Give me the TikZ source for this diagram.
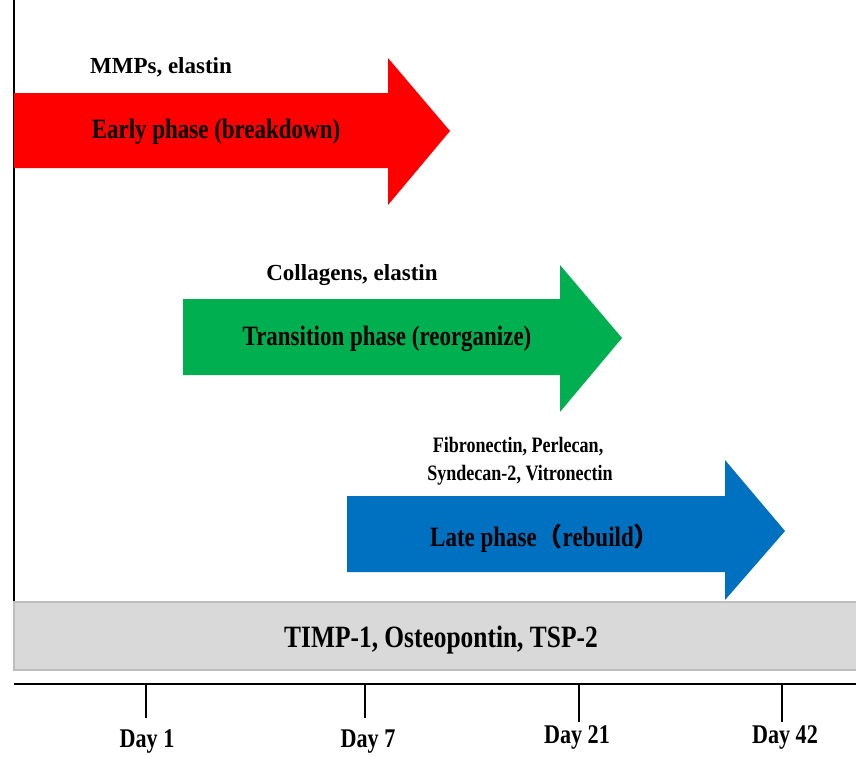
\documentclass[tikz,border=0pt]{standalone}
\usepackage{fontspec}
\setmainfont{Liberation Serif}
\newfontfamily\cf[FakeStretch=0.82]{Liberation Serif}
\newfontfamily\cjk{Noto Sans CJK SC}
\definecolor{ared}{HTML}{FF0000}
\definecolor{agreen}{HTML}{00B050}
\definecolor{ablue}{HTML}{0070C0}
\definecolor{bandgray}{HTML}{D9D9D9}
\definecolor{bandedge}{HTML}{BDBDBD}
\tikzset{
  phasearrow/.style={draw=none},
  lbl/.style={inner sep=0pt, anchor=base, text=black},
  biglbl/.style={lbl, font=\cf\bfseries\fontsize{28}{30}\selectfont},
  toplbl/.style={lbl, font=\bfseries\fontsize{23}{26}\selectfont},
  daylbl/.style={lbl, font=\cf\bfseries\fontsize{27}{30}\selectfont},
  tickline/.style={draw=black, line width=1.4pt},
}
\begin{document}
\begin{tikzpicture}[x=1pt,y=-1pt]
\useasboundingbox (0,0) rectangle (856,756);
% vertical axis
\coordinate (vtop) at (14,0);
\coordinate (vbot) at (14,602);
\draw[line width=2pt] (vtop) -- (vbot);
% arrows
\fill[ared] (14,93) -- (388,93) -- (388,58) -- (450,131) -- (388,205) -- (388,168) -- (14,168) -- cycle;
\fill[agreen] (183,299) -- (560,299) -- (560,265) -- (622,338) -- (560,412) -- (560,375) -- (183,375) -- cycle;
\fill[ablue] (347,496) -- (725,496) -- (725,460) -- (785,531) -- (725,600) -- (725,572) -- (347,572) -- cycle;
% band
\fill[bandgray] (14,602) rectangle (856,670);
\draw[bandedge, line width=1.2pt] (856,602) -- (14,602) -- (14,670) -- (856,670);
% labels
\node[toplbl] (mmp) at (161,73) {MMPs, elastin};
\node[biglbl] (early) at (216,138) {Early phase (breakdown)};
\node[toplbl] (coll) at (352,280) {Collagens, elastin};
\node[biglbl] (trans) at (387,345) {Transition phase (reorganize)};
\node[lbl, font=\cf\bfseries\fontsize{22}{26}\selectfont] (fib) at (518,452) {Fibronectin, Perlecan,};
\node[lbl, font=\cf\bfseries\fontsize{22}{26}\selectfont] (syn) at (520,480) {Syndecan-2, Vitronectin};
\node[biglbl] (late) at (545,546) {Late phase{\cjk\fontsize{26}{30}\selectfont（}rebuild{\cjk\fontsize{26}{30}\selectfont）}};
\node[lbl, font=\cf\bfseries\fontsize{31}{34}\selectfont] (timp) at (441,647) {TIMP-1, Osteopontin, TSP-2};
% time axis
\coordinate (hl) at (14,684);
\coordinate (hr) at (856,684);
\draw[line width=1.6pt] (hl) -- (hr);
\node[daylbl] (d1) at (147,747) {Day 1};
\node[daylbl] (d7) at (368,747) {Day 7};
\node[daylbl] (d21) at (577,743) {Day 21};
\node[daylbl] (d42) at (785,743) {Day 42};
\coordinate (t1) at (146,684);
\coordinate (t7) at (365,684);
\coordinate (t21) at (579,684);
\coordinate (t42) at (782,684);
\coordinate (e1) at (146,718);
\coordinate (e7) at (365,718);
\coordinate (e21) at (579,722);
\coordinate (e42) at (782,722);
\draw[tickline] (t1) -- (e1);
\draw[tickline] (t7) -- (e7);
\draw[tickline] (t21) -- (e21);
\draw[tickline] (t42) -- (e42);
\end{tikzpicture}
\end{document}
